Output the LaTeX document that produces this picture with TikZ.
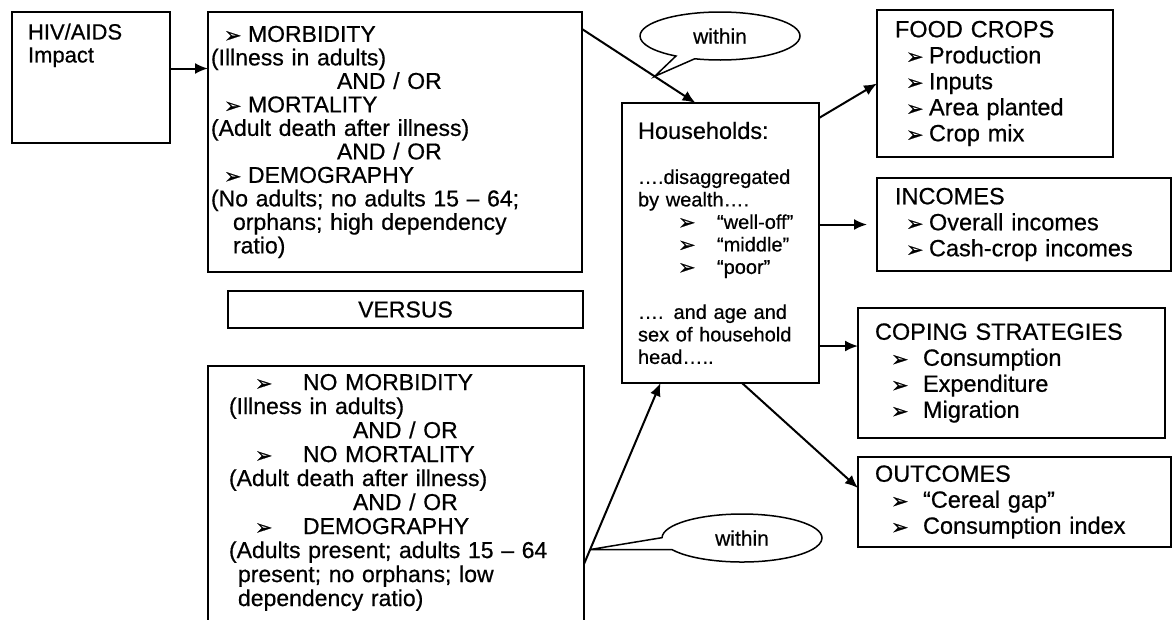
\documentclass[tikz,border=0pt]{standalone}
\usepackage{fontspec}
\setmainfont{Liberation Sans}[UprightFeatures={FakeBold=0.6}]
\newfontfamily\dingfont{DejaVu Sans}[FakeBold=0.8]
\usetikzlibrary{arrows.meta,calc,shapes.callouts}
\newcommand\arr{\raisebox{-0.5pt}{\dingfont\fontsize{21}{21}\selectfont ➢}}
\newcommand\bul[2]{\hspace*{#1pt}\makebox[#2pt][l]{\arr}}
\begin{document}
\begin{tikzpicture}[x=1pt,y=-1pt,line width=2pt,
  every node/.style={inner sep=0pt,outer sep=0pt},
  box/.style={draw,line width=2.4pt,anchor=north west,align=left},
  leftfont/.style={font=\fontsize{23}{23.5}\selectfont},
  lowfont/.style={font=\fontsize{23}{24}\selectfont},
  rightfont/.style={font=\fontsize{23.5}{26}\selectfont},
  hhfont/.style={font=\fontsize{20}{22.5}\selectfont},
  conn/.style={-{Latex[length=13pt,width=11pt]}},
  within/.style={draw,ellipse callout,line width=1.5pt,minimum width=160pt,minimum height=48pt,font=\fontsize{21}{21}\selectfont}]
\useasboundingbox (0,0) rectangle (1174,619);
\clip (0,0) rectangle (1174,619);
% left column
\node[box,font=\fontsize{22}{23}\selectfont,minimum width=158pt,minimum height=131pt,inner xsep=16pt,text width=126pt] (hiv) at (12,12)
  {HIV/AIDS\\Impact\\\mbox{}\\\mbox{}\\\mbox{}};
\node[box,leftfont,minimum width=374pt,minimum height=260pt,inner xsep=3pt,text width=368pt] (morb) at (208,12)
  {\bul{13}{24}MORBIDITY\\(Illness in adults)\\\hspace*{126pt}AND / OR\\
   \bul{13}{24}MORTALITY\\(Adult death after illness)\\\hspace*{126pt}AND / OR\\
   \bul{13}{24}DEMOGRAPHY\\(No adults; no adults 15 – 64;\\\hspace*{22pt}orphans; high dependency\\\hspace*{22pt}ratio)};
\node[box,leftfont,align=center,minimum width=355pt,minimum height=37pt] (vs) at (228,291) {VERSUS};
\node[box,lowfont,minimum width=376pt,minimum height=272pt,inner xsep=21pt,text width=334pt] (low) at (208,366)
  {\bul{26}{48}NO MORBIDITY\\(Illness in adults)\\\hspace*{124pt}AND / OR\\
   \bul{26}{48}NO MORTALITY\\(Adult death after illness)\\\hspace*{124pt}AND / OR\\
   \bul{26}{48}DEMOGRAPHY\\(Adults present; adults 15 – 64\\\hspace*{9pt}present; no orphans; low\\\hspace*{9pt}dependency ratio)\\\mbox{}};
% households
\node[box,hhfont,minimum width=197pt,minimum height=280pt,inner xsep=16pt,text width=165pt] (hh) at (622,103)
  {{\fontsize{23.5}{22.5}\selectfont Households:}\\\mbox{}\\….disaggregated\\by wealth….\\
   \bul{40}{39}“well-off”\\\bul{40}{39}“middle”\\\bul{40}{39}“poor”\\\mbox{}\\
   …. and age and\\sex of household\\head…..};
% right column
\node[box,rightfont,minimum width=236pt,minimum height=147pt,inner xsep=18pt,text width=200pt] (food) at (877,10)
  {FOOD CROPS\\\bul{11}{23}Production\\\bul{11}{23}Inputs\\\bul{11}{23}Area planted\\\bul{11}{23}Crop mix};
\node[box,rightfont,minimum width=294pt,minimum height=93pt,inner xsep=18pt,text width=258pt] (inc) at (877,178)
  {INCOMES\\\bul{11}{23}Overall incomes\\\bul{11}{23}Cash-crop incomes};
\node[box,rightfont,minimum width=307pt,minimum height=130pt,inner xsep=17pt,text width=273pt] (cope) at (858,308)
  {COPING STRATEGIES\\\bul{16}{32}Consumption\\\bul{16}{32}Expenditure\\\bul{16}{32}Migration};
\node[box,rightfont,minimum width=313pt,minimum height=90pt,inner xsep=17pt,text width=279pt] (out) at (858,457)
  {OUTCOMES\\\bul{16}{32}“Cereal gap”\\\bul{16}{32}Consumption index};
% connectors
\coordinate (hivout) at ([yshift=9pt]hiv.east);
\draw[conn] (hivout) -- (hivout -| morb.west);
\coordinate (morbout) at ([yshift=-17pt]morb.north east);
\coordinate (hhin) at ([xshift=-25pt]hh.north);
\coordinate (tip1) at ($(morbout)!0.64!(hhin)$);
\node[within,callout absolute pointer={(tip1)}] (within1) at (720,36) {within};
\draw[conn] (morbout) -- (hhin);
\coordinate (lowout) at ([yshift=-62pt]low.east);
\coordinate (hhbot) at ([xshift=-60pt]hh.south);
\coordinate (tip2) at ($(lowout)!0.08!(hhbot)$);
\node[within,callout absolute pointer={(tip2)},callout pointer arc=30] (within2) at (742,538) {within};
\draw[conn] (lowout) -- (hhbot);
\draw[conn] ([yshift=-15pt]hh.north east) -- (food.west);
\draw[conn] (hh.east |- inc.west) -- ([xshift=-10pt]inc.west);
\coordinate (hhcope) at ([yshift=-103pt]hh.east);
\draw[conn] (hhcope) -- (hhcope -| cope.west);
\draw[conn] ([xshift=21.5pt]hh.south) -- ([yshift=14pt]out.west);
\end{tikzpicture}
\end{document}
